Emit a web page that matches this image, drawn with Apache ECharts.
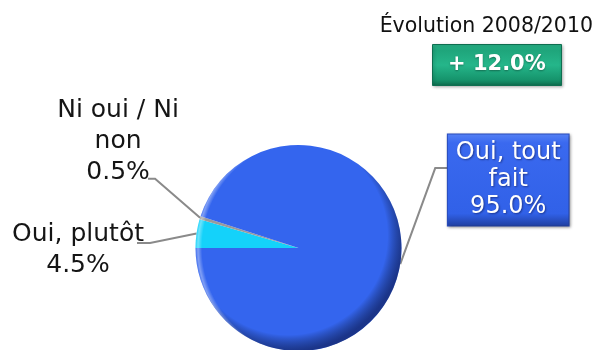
<!DOCTYPE html>
<html>
<head>
<meta charset="utf-8">
<script src="https://cdn.jsdelivr.net/npm/echarts@6/dist/echarts.min.js"></script>
<style>
  html, body { margin: 0; padding: 0; background: #ffffff; }
  #chart { width: 602px; height: 350px; }
</style>
</head>
<body>
<div id="chart"></div>
<script>
// Survey answers and their shares (%)
const categories = ['Oui, plutôt', 'Ni oui / Ni non', 'Oui, tout fait'];
const labelTexts = ['Oui, plutôt', 'Ni oui / Ni\nnon', 'Oui, tout\nfait'];
const shares = [4.5, 0.5, 95.0];
const sliceColors = ['#14d2fa', '#9a9a9a', '#3465ee'];

// Change badge
const evolutionTitle = 'Évolution 2008/2010';
const evolutionChange = 12.0;

const FONT = 'DejaVu Sans';
const CENTER = [298.5, 248];
const RADIUS = 103;

// Where each label sits relative to the point where its leader leaves the slice
const labelPlacement = [
  { bend: [-46.5, 9.5], end: [-59.5, 9.5], at: [-118.5, 16.5] },
  { bend: [-45, -39], end: [-52, -39], at: [-82, -76] },
  { bend: [35, -96], end: [47, -96], at: [108, -84] }
];

const plainLabel = {
  color: '#151515',
  fontFamily: FONT,
  fontSize: 25,
  lineHeight: 31,
  align: 'center'
};

const boxLabel = {
  color: '#ffffff',
  fontFamily: FONT,
  fontSize: 24,
  lineHeight: 27,
  align: 'center',
  padding: [5, 8, 5, 8],
  backgroundColor: new echarts.graphic.LinearGradient(0, 0, 0, 1, [
    { offset: 0, color: '#5581f4' },
    { offset: 0.1, color: '#3a69ef' },
    { offset: 0.86, color: '#3161e8' },
    { offset: 1, color: '#1f3e9e' }
  ]),
  borderColor: '#2a4dbf',
  borderWidth: 1,
  shadowColor: 'rgba(0,0,0,0.35)',
  shadowBlur: 3,
  shadowOffsetX: 1,
  shadowOffsetY: 1,
  textShadowColor: 'rgba(0,0,40,0.45)',
  textShadowBlur: 2,
  textShadowOffsetX: 1,
  textShadowOffsetY: 1
};

const pieData = categories.map((name, i) => ({
  name: name,
  value: shares[i],
  itemStyle: { color: sliceColors[i] },
  label: i === 2 ? boxLabel : plainLabel
}));

// full-disc overlay used for the rim shading
function rimLayer(z, gradient) {
  return {
    type: 'pie',
    center: CENTER,
    radius: RADIUS,
    silent: true,
    z: z,
    data: [{ value: 1 }],
    label: { show: false },
    labelLine: { show: false },
    emphasis: { disabled: true },
    itemStyle: { color: gradient }
  };
}

const chart = echarts.init(document.getElementById('chart'), null, { renderer: 'canvas' });

chart.setOption({
  animation: false,
  backgroundColor: '#ffffff',
  title: [
    {
      text: evolutionTitle,
      right: 9,
      top: 16,
      padding: 0,
      textStyle: { fontFamily: FONT, fontSize: 20.5, fontWeight: 'normal', color: '#111111' }
    },
    {
      text: '+ ' + evolutionChange.toFixed(1) + '%',
      left: 432,
      top: 44,
      padding: [10, 16, 10, 16],
      backgroundColor: new echarts.graphic.LinearGradient(0, 0, 0, 1, [
        { offset: 0, color: '#2bb98c' },
        { offset: 0.15, color: '#1fa57b' },
        { offset: 0.5, color: '#25b68a' },
        { offset: 0.85, color: '#16946c' },
        { offset: 1, color: '#0d6a4c' }
      ]),
      borderColor: '#0f6e50',
      borderWidth: 1,
      shadowColor: 'rgba(0,0,0,0.3)',
      shadowBlur: 3,
      shadowOffsetX: 1,
      shadowOffsetY: 1,
      textStyle: {
        fontFamily: FONT,
        fontSize: 21,
        fontWeight: 'bold',
        color: '#ffffff',
        lineHeight: 22,
        textShadowColor: 'rgba(0,0,0,0.35)',
        textShadowBlur: 2,
        textShadowOffsetY: 1
      }
    }
  ],
  series: [
    {
      type: 'pie',
      center: CENTER,
      radius: RADIUS,
      startAngle: 180,
      clockwise: true,
      data: pieData,
      label: {
        show: true,
        position: 'outside',
        formatter: p => labelTexts[p.dataIndex] + '\n' + p.value.toFixed(1) + '%'
      },
      labelLine: {
        show: true,
        lineStyle: { color: '#8a8a8a', width: 2 }
      },
      labelLayout: params => {
        const pl = labelPlacement[params.dataIndex];
        const p0 = params.labelLinePoints[0];
        return {
          x: p0[0] + pl.at[0],
          y: p0[1] + pl.at[1],
          align: 'center',
          verticalAlign: 'middle',
          labelLinePoints: [
            [p0[0], p0[1]],
            [p0[0] + pl.bend[0], p0[1] + pl.bend[1]],
            [p0[0] + pl.end[0], p0[1] + pl.end[1]]
          ]
        };
      },
      emphasis: { disabled: true }
    },
    // dark rim towards the lower right
    rimLayer(3, new echarts.graphic.RadialGradient(0.45, 0.44, 0.56, [
      { offset: 0, color: 'rgba(0,0,0,0)' },
      { offset: 0.86, color: 'rgba(0,0,0,0)' },
      { offset: 1, color: 'rgba(10,20,70,0.6)' }
    ])),
    // light edge along the left side
    rimLayer(4, new echarts.graphic.RadialGradient(0.56, 0.5, 0.568, [
      { offset: 0, color: 'rgba(255,255,255,0)' },
      { offset: 0.93, color: 'rgba(255,255,255,0)' },
      { offset: 0.965, color: 'rgba(255,255,255,0.38)' },
      { offset: 0.99, color: 'rgba(255,255,255,0)' },
      { offset: 1, color: 'rgba(255,255,255,0)' }
    ]))
  ]
});
</script>
</body>
</html>
